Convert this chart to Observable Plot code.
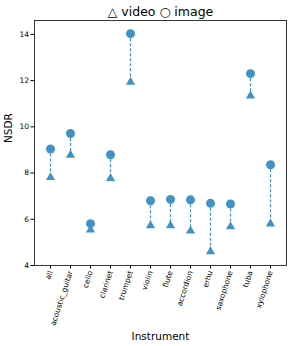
<!DOCTYPE html>
<html><head><meta charset="utf-8">
<script src="https://cdn.jsdelivr.net/npm/d3@7"></script>
<script src="https://cdn.jsdelivr.net/npm/@observablehq/plot@0.6"></script>
<style>body{margin:0;background:#fff;font-family:"DejaVu Sans",sans-serif}</style>
</head><body><div id="chart"></div>
<script>
const instruments = ["all","acoustic_guitar","cello","clarinet","trumpet","violin","flute","accordion","erhu","saxophone","tuba","xylophone"];
const imageNSDR = [9.04,9.71,5.81,8.79,14.03,6.80,6.86,6.84,6.69,6.66,12.30,8.36];
const videoNSDR = [7.81,8.78,5.54,7.77,11.94,5.73,5.73,5.50,4.60,5.68,11.34,5.80];
const yTicks = [4,6,8,10,12,14];

const rows = instruments.map((d,i)=>({inst:d, image:imageNSDR[i], video:videoNSDR[i]}));
const color = "#4292c6";

const chart = Plot.plot({
  width: 294, height: 346,
  marginTop: 20, marginLeft: 34, marginRight: 8, marginBottom: 81,
  style: {fontFamily: "DejaVu Sans", fontSize: "7px", color: "#000", background: "#fff"},
  x: {type: "point", domain: instruments, padding: 0.62, label: null},
  y: {domain: [4, 14.6], label: null},
  marks: [
    Plot.frame({stroke: "#222", strokeWidth: 0.9}),
    Plot.axisY({ticks: yTicks, tickSize: 3.5, tickPadding: 2, fontSize: 7.5, label: null}),
    Plot.axisX({tickSize: 3.5, tickRotate: -72, tickPadding: 2, fontSize: 7.5, label: null}),
    Plot.ruleX(rows, {x: "inst", y1: "image", y2: "video", stroke: color, strokeWidth: 1.2, strokeDasharray: "3,2"}),
    Plot.dot(rows, {x: "inst", y: "image", r: 4.5, fill: color, symbol: "circle"}),
    Plot.dot(rows, {x: "inst", y: "video", r: 3.4, fill: color, symbol: "triangle"}),
    Plot.text(["△ video ○ image"], {frameAnchor: "top", dy: -13, fontSize: 12.5, fill: "#000", text: d=>d}),
    Plot.text(["NSDR"], {frameAnchor: "left", dx: -26, rotate: -90, fontSize: 10.5, fill: "#000", text: d=>d}),
    Plot.text(["Instrument"], {frameAnchor: "bottom", dy: 74, fontSize: 10.5, fill: "#000", text: d=>d})
  ]
});
document.getElementById("chart").appendChild(chart);
</script></body></html>
